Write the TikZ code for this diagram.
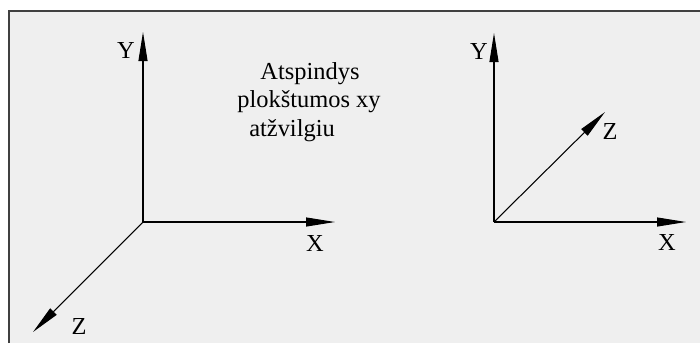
\documentclass[tikz,border=0pt]{standalone}
\usepackage{fontspec}
\setmainfont{Liberation Serif}
\usepackage{xcolor}
\usetikzlibrary{arrows.meta, positioning}

\definecolor{panelgray}{HTML}{EFEFEF}
\definecolor{framegray}{HTML}{404040}

\tikzset{
  axis/.style={line width=0.6pt, black, -{Triangle[length=0.58cm, width=0.18cm]}},
  axislabel/.style={font=\fontsize{13.9}{16}\selectfont, inner sep=0pt, anchor=base},
  note/.style={font=\fontsize{13.9}{16}\selectfont, inner sep=0pt, anchor=base}
}

\begin{document}
\begin{tikzpicture}[x=0.02cm, y=-0.02cm]
  % canvas: 700x343 px, 1px = 0.02cm, y downwards
  \useasboundingbox (0,0) rectangle (700,343);
  \fill[white] (0,0) rectangle (700,343);
  \fill[panelgray] (9,11) rectangle (700,343);
  \draw[framegray, line width=0.9pt] (9,343) -- (9,11) -- (700,11);

  % left triad: Z towards viewer
  \coordinate (oL) at (143,222);
  \coordinate (xL) at (335,222);
  \coordinate (yL) at (143,32);
  \coordinate (zL) at (33,332);
  \draw[axis] (oL) -- (xL);
  \draw[axis] (oL) -- (yL);
  \draw[axis] (oL) -- (zL);
  \node[axislabel] (labXL) at (315,251) {X};
  \node[axislabel] (labYL) at (126,58) {Y};
  \node[axislabel] (labZL) at (79,334) {Z};

  % right triad: reflected, Z away from viewer
  \coordinate (oR) at (494,222);
  \coordinate (xR) at (686,222);
  \coordinate (yR) at (494,33);
  \coordinate (zR) at (605,112);
  \draw[axis] (oR) -- (xR);
  \draw[axis] (oR) -- (yR);
  \draw[axis] (oR) -- (zR);
  \node[axislabel] (labXR) at (667,250) {X};
  \node[axislabel] (labYR) at (479,59) {Y};
  \node[axislabel] (labZR) at (610,139) {Z};

  % caption between the triads
  \node[note] (cap1) at (310,79) {Atspindys};
  \node[note] (cap2) at (309,107) {plokštumos xy};
  \node[note] (cap3) at (292,136) {atžvilgiu};
\end{tikzpicture}
\end{document}
